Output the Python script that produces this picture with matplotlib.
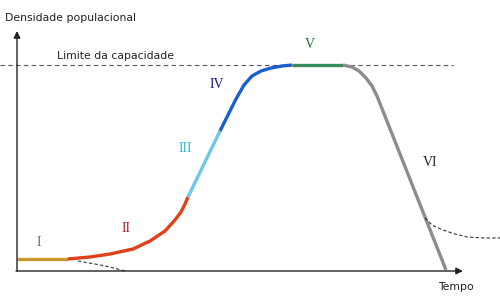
import matplotlib
matplotlib.use("Agg")
import matplotlib.pyplot as plt

# Data in (time, density) units; origin at axes corner
K = 205  # carrying capacity
phase_I_t = [0, 51]
phase_I_n = [11, 11]
phase_II_t = [51, 73, 93, 116, 133, 148, 158, 164, 168, 171]
phase_II_n = [11, 13, 16, 21, 29, 39, 50, 58, 66, 73]
phase_III_t = [171, 203]
phase_III_n = [73, 139]
phase_IV_t = [203, 211, 219, 227, 235, 244, 254, 265, 275]
phase_IV_n = [139, 155, 171, 185, 194, 199, 202, 204, 205]
phase_V_t = [275, 326]
phase_V_n = [205, 205]
phase_VI_t = [326, 335, 342, 349, 355, 360, 429]
phase_VI_n = [205, 203, 199, 192, 184, 174, 0]
decline_early_t = [61, 78, 93, 108]
decline_early_n = [9, 6, 3, -1]
decline_late_t = [408, 415, 426, 438, 450, 468, 483]
decline_late_n = [52, 45, 40, 36, 33, 32, 32]

roman = ["I", "II", "III", "IV", "V", "VI"]
roman_pos_t = [22, 109, 168, 200, 293, 413]
roman_pos_n = [28, 41, 121, 185, 225, 107]
roman_colors = ["#6b6b50", "#b0202a", "#30b8d8", "#1a1a8c", "#1e6b3a", "#222222"]

fig = plt.figure(figsize=(5.0, 3.02), dpi=100)
ax = fig.add_axes([0, 0, 1, 1])
ax.set_xlim(-17, 483)
ax.set_ylim(-32, 270)
ax.axis("off")

lw = 2.4
ax.plot(phase_I_t, phase_I_n, color="#c8962a", lw=lw, solid_capstyle="butt")
ax.plot(phase_II_t, phase_II_n, color="#e0401a", lw=lw, solid_capstyle="butt")
ax.plot(phase_III_t, phase_III_n, color="#6ec6e8", lw=lw, solid_capstyle="butt")
ax.plot(phase_IV_t, phase_IV_n, color="#1a5fd0", lw=lw, solid_capstyle="butt")
ax.plot(phase_V_t, phase_V_n, color="#3a8a60", lw=lw, solid_capstyle="butt")
ax.plot(phase_VI_t, phase_VI_n, color="#8c8c8c", lw=lw, solid_capstyle="butt")

ax.plot(decline_early_t, decline_early_n, color="#333333", lw=0.8, ls=(0, (3, 2)))
ax.plot(decline_late_t, decline_late_n, color="#333333", lw=0.8, ls=(0, (3, 2)))

# carrying capacity line
ax.plot([-17, 436], [K, K], color="#555555", lw=0.8, ls=(0, (4, 3)), zorder=0)
ax.text(40, K + 4, "Limite da capacidade", fontsize=7.8, color="#222222",
        ha="left", va="bottom")

# axes arrows
ax.annotate("", xy=(0, 239), xytext=(0, -1),
            arrowprops=dict(arrowstyle="-|>", color="#222222", lw=1.0,
                            mutation_scale=10, shrinkA=0, shrinkB=0))
ax.annotate("", xy=(446, -1), xytext=(-1, -1),
            arrowprops=dict(arrowstyle="-|>", color="#222222", lw=1.0,
                            mutation_scale=10, shrinkA=0, shrinkB=0))

ax.text(-12, 252, "Densidade populacional", fontsize=7.8, color="#222222",
        ha="left", va="center")
ax.text(439, -17, "Tempo", fontsize=7.8, color="#222222", ha="center", va="center")

for r, t, n, c in zip(roman, roman_pos_t, roman_pos_n, roman_colors):
    ax.text(t, n, r, fontsize=10, color=c, family="Liberation Serif",
            ha="center", va="center")

fig.savefig("out.png", dpi=100)
